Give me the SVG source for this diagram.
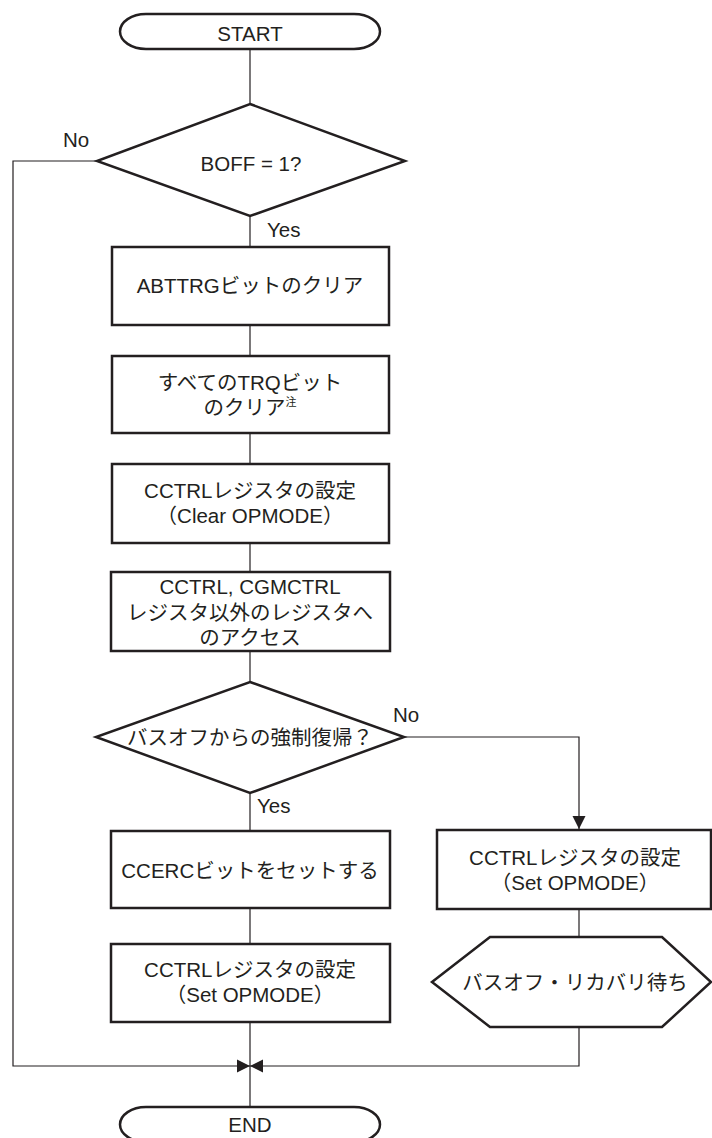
<svg xmlns="http://www.w3.org/2000/svg" width="712" height="1138" viewBox="0 0 712 1138">
<style>
.shape{fill:#fff;stroke:#231f20;stroke-width:2.5}
.line{fill:none;stroke:#231f20;stroke-width:1.2}
text{font-family:"Liberation Sans","Noto Sans CJK JP",sans-serif;font-size:20.5px;fill:#231f20}
.c{text-anchor:middle}
.sup{font-size:11px}
</style>
<defs>
<marker id="arr" markerUnits="userSpaceOnUse" markerWidth="14" markerHeight="14" viewBox="0 0 14 14" refX="13" refY="7" orient="auto">
<path d="M0,0.5 L13,7 L0,13.5 Z" fill="#231f20"/>
</marker>
</defs>
<rect width="712" height="1138" fill="#fff"/>
<g id="connectors">
<path class="line" d="M250,49 V104"/>
<path class="line" d="M250,216 V247"/>
<path class="line" d="M250,325 V356"/>
<path class="line" d="M250,433 V464"/>
<path class="line" d="M250,543 V572"/>
<path class="line" d="M250,651 V682"/>
<path class="line" d="M250,793 V831"/>
<path class="line" d="M250,908 V944"/>
<path class="line" d="M250,1022 V1107"/>
<path class="line" d="M97,161 H13 V1066 H250" marker-end="url(#arr)"/>
<path class="line" d="M404,737 H579 V829" marker-end="url(#arr)"/>
<path class="line" d="M579,909 V937"/>
<path class="line" d="M579,1027 V1066 H250" marker-end="url(#arr)"/>
<text x="63" y="147">No</text>
<text x="267" y="237">Yes</text>
<text x="393" y="722">No</text>
<text x="257" y="813">Yes</text>
</g>
<g id="start">
<rect class="shape" x="120" y="14" width="260" height="35" rx="26" ry="17.5"/>
<text class="c" x="250" y="41">START</text>
</g>
<g id="d1">
<polygon class="shape" points="250,104 405,161 250,216 97,161"/>
<text class="c" x="251" y="171">BOFF = 1?</text>
</g>
<g id="b1">
<rect class="shape" x="112" y="247" width="277" height="78"/>
<text class="c" x="250" y="293">ABTTRGビットのクリア</text>
</g>
<g id="b2">
<rect class="shape" x="112" y="356" width="277" height="77"/>
<text class="c" x="250" y="390">すべてのTRQビット</text>
<text class="c" x="250" y="415">のクリア<tspan class="sup" dy="-9">注</tspan></text>
</g>
<g id="b3">
<rect class="shape" x="112" y="464" width="277" height="79"/>
<text class="c" x="250" y="498">CCTRLレジスタの設定</text>
<text class="c" x="250" y="523">（Clear OPMODE）</text>
</g>
<g id="b4">
<rect class="shape" x="111" y="572" width="279" height="79"/>
<text class="c" x="250" y="594">CCTRL, CGMCTRL</text>
<text class="c" x="250" y="620">レジスタ以外のレジスタへ</text>
<text class="c" x="250" y="645">のアクセス</text>
</g>
<g id="d2">
<polygon class="shape" points="250,682 404,737 250,793 96,737"/>
<text class="c" x="250" y="745">バスオフからの強制復帰？</text>
</g>
<g id="b5">
<rect class="shape" x="111" y="831" width="279" height="77"/>
<text class="c" x="250" y="878">CCERCビットをセットする</text>
</g>
<g id="b6">
<rect class="shape" x="111" y="944" width="279" height="78"/>
<text class="c" x="250" y="977">CCTRLレジスタの設定</text>
<text class="c" x="250" y="1002">（Set OPMODE）</text>
</g>
<g id="b7">
<rect class="shape" x="437" y="830" width="274" height="79"/>
<text class="c" x="575" y="865">CCTRLレジスタの設定</text>
<text class="c" x="575" y="890">（Set OPMODE）</text>
</g>
<g id="hex">
<polygon class="shape" points="432,982 490,937 662,937 711,982 662,1027 490,1027"/>
<text class="c" x="575" y="990">バスオフ・リカバリ待ち</text>
</g>
<g id="end">
<rect class="shape" x="120" y="1107" width="260" height="35" rx="26" ry="17.5"/>
<text class="c" x="250" y="1132">END</text>
</g>
</svg>
